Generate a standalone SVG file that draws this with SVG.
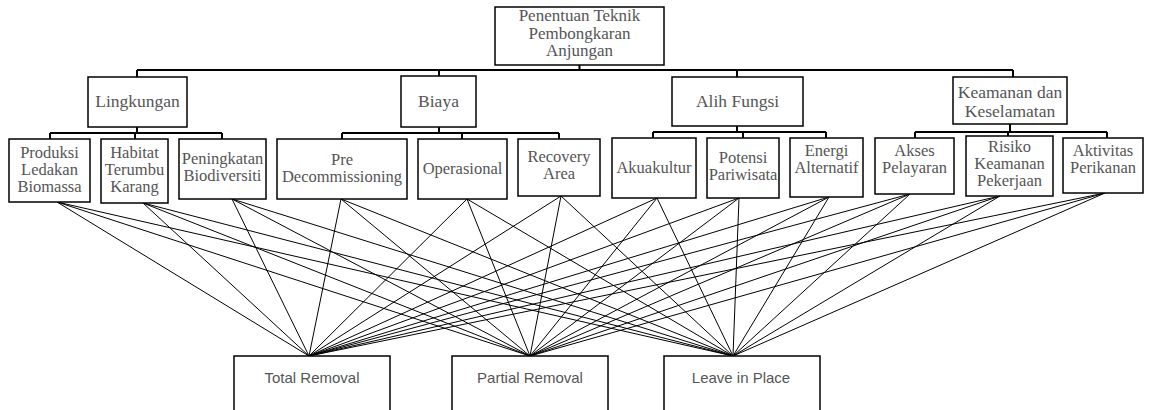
<svg xmlns="http://www.w3.org/2000/svg" width="1153" height="410" viewBox="0 0 1153 410">
<style>
.box{fill:#fff;stroke:#000;stroke-width:1.5}
.t{font-family:"Liberation Serif","Times New Roman",serif;font-size:16.5px;fill:#555;text-anchor:middle}
.c{font-size:17.5px}
.r{font-size:17px}
.s{font-family:"Liberation Sans",Arial,sans-serif;font-size:15px;fill:#555;text-anchor:middle}
.tree{fill:none;stroke:#000;stroke-width:2}
.ln{stroke:#000;stroke-width:1;fill:none}
</style>
<rect width="1153" height="410" fill="#fff"/>
<g id="connectors">
<g class="tree">
<path d="M579.5 65V70M137 70H1013M137 70V77M439 70V76M737 70V77M1013 70V77"/>
<path d="M137 127V133M50 133H222M50 133V139M135 133V139M222 133V139"/>
<path d="M439 127V133M342 133H559M342 133V139M462 133V139M559 133V139"/>
<path d="M737 126V132M653 132H826M653 132V138M743 132V138M826 132V138"/>
<path d="M1010 124V132M915 132H1107M915 132V138M1008 132V136M1107 132V138"/>
</g>
<g class="ln">
<path d="M57 202L309 356M57 202L530 356M57 202L733 356"/>
<path d="M143 203L309 356M143 203L530 356M143 203L733 356"/>
<path d="M232 199L309 356M232 199L530 356M232 199L733 356"/>
<path d="M341 199L309 356M341 199L530 356M341 199L733 356"/>
<path d="M467 199L309 356M467 199L530 356M467 199L733 356"/>
<path d="M561 196L309 356M561 196L530 356M561 196L733 356"/>
<path d="M657 198L309 356M657 198L530 356M657 198L733 356"/>
<path d="M739 198L309 356M739 198L530 356M739 198L733 356"/>
<path d="M829 197L309 356M829 197L530 356M829 197L733 356"/>
<path d="M910 194L309 356M910 194L530 356M910 194L733 356"/>
<path d="M1000 196L309 356M1000 196L530 356M1000 196L733 356"/>
<path d="M1105 193L309 356M1105 193L530 356M1105 193L733 356"/>
</g>
</g>
<g id="root"><rect class="box" x="495" y="7" width="169" height="58"/>
<text class="t r" x="579.5" y="21">Penentuan Teknik</text><text class="t r" x="579.5" y="38.5">Pembongkaran</text><text class="t r" x="579.5" y="56">Anjungan</text></g>
<g id="lingkungan"><rect class="box" x="88" y="77" width="99" height="50"/><text class="t c" x="137.5" y="107">Lingkungan</text></g>
<g id="biaya"><rect class="box" x="401" y="76" width="75" height="51"/><text class="t c" x="438.5" y="107">Biaya</text></g>
<g id="alih-fungsi"><rect class="box" x="672" y="77" width="131" height="49"/><text class="t c" x="737.5" y="107">Alih Fungsi</text></g>
<g id="keamanan"><rect class="box" x="953" y="77" width="114" height="47"/><text class="t c" x="1010" y="98">Keamanan dan</text><text class="t c" x="1010" y="117">Keselamatan</text></g>
<g id="produksi"><rect class="box" x="9" y="139" width="81" height="63"/><text class="t" x="49.5" y="158">Produksi</text><text class="t" x="49.5" y="175">Ledakan</text><text class="t" x="49.5" y="192">Biomassa</text></g>
<g id="habitat"><rect class="box" x="101" y="139" width="67" height="64"/><text class="t" x="134.5" y="158">Habitat</text><text class="t" x="134.5" y="175">Terumbu</text><text class="t" x="134.5" y="192">Karang</text></g>
<g id="peningkatan"><rect class="box" x="179" y="139" width="87" height="60"/><text class="t" x="222.5" y="164">Peningkatan</text><text class="t" x="222.5" y="181">Biodiversiti</text></g>
<g id="pre-decom"><rect class="box" x="277" y="139" width="130" height="60"/><text class="t" x="342" y="165">Pre</text><text class="t" x="342" y="182">Decommissioning</text></g>
<g id="operasional"><rect class="box" x="418" y="139" width="89" height="60"/><text class="t" x="462.5" y="174">Operasional</text></g>
<g id="recovery"><rect class="box" x="518" y="139" width="82" height="57"/><text class="t" x="559" y="162">Recovery</text><text class="t" x="559" y="179">Area</text></g>
<g id="akuakultur"><rect class="box" x="612" y="138" width="84" height="60"/><text class="t" x="654" y="173">Akuakultur</text></g>
<g id="potensi"><rect class="box" x="707" y="138" width="72" height="60"/><text class="t" x="743" y="163">Potensi</text><text class="t" x="743" y="180">Pariwisata</text></g>
<g id="energi"><rect class="box" x="790" y="138" width="73" height="59"/><text class="t" x="826.5" y="156">Energi</text><text class="t" x="826.5" y="173">Alternatif</text></g>
<g id="akses"><rect class="box" x="875" y="138" width="79" height="56"/><text class="t" x="914.5" y="156">Akses</text><text class="t" x="914.5" y="173">Pelayaran</text></g>
<g id="risiko"><rect class="box" x="966" y="136" width="87" height="60"/><text class="t" x="1009.5" y="152">Risiko</text><text class="t" x="1009.5" y="169">Keamanan</text><text class="t" x="1009.5" y="186">Pekerjaan</text></g>
<g id="aktivitas"><rect class="box" x="1063" y="138" width="80" height="55"/><text class="t" x="1103" y="156">Aktivitas</text><text class="t" x="1103" y="173">Perikanan</text></g>
<g id="total-removal"><rect class="box" x="234" y="356" width="156" height="70"/><text class="s" x="312" y="383">Total Removal</text></g>
<g id="partial-removal"><rect class="box" x="452" y="356" width="156" height="70"/><text class="s" x="530" y="383">Partial Removal</text></g>
<g id="leave-in-place"><rect class="box" x="664" y="356" width="156" height="70"/><text class="s" x="741" y="383">Leave in Place</text></g>
</svg>
